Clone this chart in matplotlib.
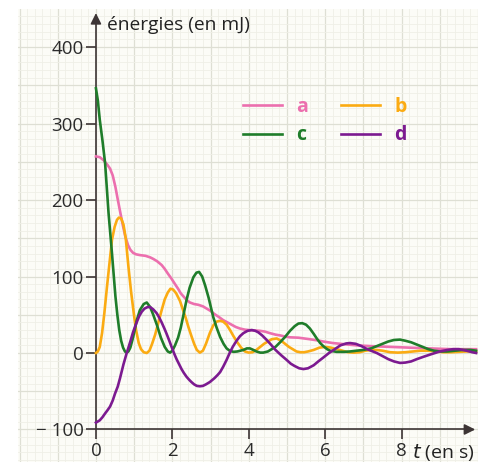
import matplotlib.pyplot as plt
import numpy as np
from matplotlib.lines import Line2D

# a : courbe rose
t_a = [0, 0.1, 0.2, 0.3, 0.37, 0.44, 0.51, 0.57, 0.64, 0.7, 0.77, 0.84, 0.9, 0.97,
       1.05, 1.15, 1.3, 1.42, 1.5, 1.6, 1.72, 1.8, 1.88, 1.98, 2.07, 2.15, 2.22,
       2.29, 2.38, 2.46, 2.57, 2.68, 2.8, 2.9, 3.0, 3.1, 3.22, 3.33, 3.44, 3.55,
       3.66, 3.77, 3.9, 4.0, 4.15, 4.29, 4.42, 4.55, 4.7, 4.82, 4.95, 5.08, 5.3,
       5.45, 5.6, 5.8, 5.95, 6.2, 6.4, 6.6, 6.82, 7.0, 7.2, 7.45, 7.7, 7.95, 8.2,
       8.45, 8.74, 9.0, 9.3, 9.6, 9.95]
e_a = [257, 256, 252, 246, 241, 232, 217, 201, 183, 168, 152, 141, 135, 131,
       129, 128, 127, 125, 123, 120, 115, 110, 104, 97, 90, 84, 78,
       74, 69, 66, 64, 63, 61, 58, 55, 51, 47, 43, 40, 37,
       34, 32, 30.5, 30, 29.5, 29, 28, 26, 24, 23, 21.5, 20.5, 20,
       19, 18, 16.5, 15, 13, 12, 11, 10, 9.5, 9, 8.5, 8, 7.5, 7,
       6.5, 6, 5.5, 5, 5, 5]

# b : courbe orange
t_b = [0, 0.05, 0.1, 0.16, 0.22, 0.29, 0.36, 0.42, 0.49, 0.55, 0.6, 0.66, 0.72,
       0.78, 0.85, 0.92, 0.99, 1.05, 1.12, 1.18, 1.25, 1.33, 1.4, 1.47, 1.55,
       1.63, 1.72, 1.8, 1.88, 1.95, 2.02, 2.1, 2.2, 2.28, 2.35, 2.42, 2.5, 2.57,
       2.64, 2.72, 2.8, 2.88, 2.98, 3.07, 3.16, 3.25, 3.33, 3.42, 3.51, 3.6, 3.7,
       3.8, 3.9, 4.0, 4.1, 4.2, 4.3, 4.4, 4.5, 4.6, 4.73, 4.85, 4.95, 5.05, 5.15,
       5.25, 5.35, 5.45, 5.55, 5.7, 5.85, 6.0, 6.15, 6.3, 6.45, 6.6, 6.75, 6.9,
       7.05, 7.2, 7.35, 7.5, 7.7, 7.9, 8.1, 8.3, 8.5, 8.7, 8.9, 9.1, 9.3, 9.5,
       9.7, 9.95]
e_b = [0, 2, 8, 26, 52, 87, 120, 148, 165, 174, 177, 176, 168,
       150, 113, 80, 52, 30, 13, 5, 1, 0, 3, 12, 24,
       39, 56, 70, 79, 84, 83, 78, 68, 56, 46, 34, 22, 12,
       4, 0.5, 3, 12, 26, 36, 41, 42, 41, 37, 30, 22, 14,
       7, 2, 0.5, 1, 4, 8, 12, 15, 18, 19, 16, 12, 8, 5,
       2, 1, 1, 2, 4, 7, 8, 7, 5, 3, 1, 0.5, 1,
       3, 4, 4, 3, 1, 0.5, 1, 2, 3, 3, 2, 1, 1, 1.5,
       2, 2]

# c : courbe verte
t_c = [0, 0.05, 0.1, 0.17, 0.24, 0.33, 0.42, 0.51, 0.56, 0.61, 0.66, 0.71, 0.76,
       0.8, 0.85, 0.9, 0.97, 1.07, 1.15, 1.25, 1.33, 1.42, 1.5, 1.6, 1.7, 1.8,
       1.88, 1.94, 2.0, 2.07, 2.15, 2.22, 2.3, 2.37, 2.45, 2.55, 2.63, 2.7, 2.78,
       2.86, 2.95, 3.07, 3.16, 3.25, 3.34, 3.42, 3.5, 3.6, 3.7, 3.86, 3.95, 4.03,
       4.12, 4.2, 4.3, 4.38, 4.5, 4.6, 4.7, 4.82, 4.95, 5.08, 5.2, 5.3, 5.4, 5.5,
       5.6, 5.7, 5.78, 5.87, 5.95, 6.05, 6.13, 6.3, 6.5, 6.65, 6.82, 7.0, 7.2,
       7.35, 7.5, 7.65, 7.8, 7.96, 8.1, 8.25, 8.4, 8.55, 8.7, 8.85, 9.0, 9.2,
       9.4, 9.6, 9.8, 9.95]
e_c = [346, 330, 305, 278, 248, 183, 130, 74, 50, 30, 16, 7, 2,
       0.5, 2, 7, 20, 43, 56, 64, 66, 60, 50, 36, 20, 8,
       2, 0.5, 3, 10, 20, 33, 52, 69, 85, 99, 105, 106, 100,
       88, 72, 47, 33, 21, 12, 6, 3, 1.5, 2, 4, 6, 6,
       4, 2, 0.5, 0.5, 2, 5, 8, 14, 21, 29, 35, 38.5, 39, 37,
       32, 25, 19, 13, 9, 5, 3, 1.5, 1.5, 2, 3, 4, 6,
       9, 12, 15, 17, 17.5, 16, 14, 11, 8, 5, 3, 2, 2,
       3, 4, 4, 3]

# d : courbe violette
t_d = [0, 0.1, 0.17, 0.24, 0.3, 0.37, 0.44, 0.5, 0.57, 0.63, 0.68, 0.72, 0.76, 0.8,
       0.9, 0.97, 1.05, 1.13, 1.2, 1.27, 1.35, 1.42, 1.5, 1.59, 1.66, 1.72, 1.8,
       1.85, 1.92, 1.98, 2.05, 2.11, 2.18, 2.24, 2.3, 2.37, 2.44, 2.5, 2.57, 2.64,
       2.72, 2.8, 2.88, 2.98, 3.1, 3.18, 3.25, 3.33, 3.42, 3.5, 3.58, 3.68, 3.77,
       3.86, 3.97, 4.08, 4.17, 4.25, 4.35, 4.47, 4.58, 4.7, 4.85, 4.99, 5.1, 5.2,
       5.32, 5.43, 5.55, 5.7, 5.82, 5.95, 6.1, 6.25, 6.4, 6.55, 6.65, 6.8, 6.95,
       7.1, 7.25, 7.35, 7.5, 7.65, 7.8, 7.96, 8.1, 8.25, 8.4, 8.57, 8.75, 9.0,
       9.2, 9.35, 9.5, 9.7, 9.85, 9.95]
e_d = [-91, -88, -84, -79, -75, -70, -62, -53, -44, -33, -23, -15, -8, -1,
       15, 27, 38, 48, 54, 58, 60, 60, 57, 52, 46, 40, 31,
       25, 16, 8, -1, -8, -15, -21, -26, -31, -35, -38, -41, -43,
       -43.5, -43, -41, -38, -33, -29, -25, -18, -9, 0, 8, 16, 22,
       26, 29, 30, 29, 27, 23, 17, 11, 4, -3, -9, -14, -17,
       -20, -21, -20, -16, -11, -6, 0, 5, 10, 12.5, 13, 12, 9,
       5, 2, 0, -4, -8, -11, -13, -12.5, -11, -8, -5, -2, 2,
       4, 5, 5, 3, 1, 0]

y_ticks = [-100, 0, 100, 200, 300, 400]
y_labels = ['\u2212 100', '0', '100', '200', '300', '400']
x_ticks = [0, 2, 4, 6, 8]

col_a = '#ec6fae'
col_b = '#fbab12'
col_c = '#1f7d2a'
col_d = '#7c1a90'
col_axe = '#3d3535'

plt.rcParams['font.family'] = ['Open Sans', 'DejaVu Sans']

fig = plt.figure(figsize=(4.89, 4.62), dpi=100)
ax = fig.add_axes([18 / 489, 0, 460 / 489, 453 / 462])
ax.set_xlim(-2.04, 10.0)
ax.set_ylim(-142.5, 449.7)
ax.set_facecolor('#fcfcf7')

# papier millimétré
for x in np.arange(-2, 10.01, 0.2):
    major = abs(x - round(x)) < 1e-6
    ax.axvline(x, color='#dedfd4' if major else '#efefe7', lw=0.9 if major else 0.6, zorder=0)
for y in np.arange(-140, 450, 10):
    major = y % 50 == 0
    ax.axhline(y, color='#dedfd4' if major else '#efefe7', lw=0.9 if major else 0.6, zorder=0)

ax.plot(t_a, e_a, color=col_a, lw=1.9, zorder=3)
ax.plot(t_b, e_b, color=col_b, lw=1.9, zorder=3)
ax.plot(t_c, e_c, color=col_c, lw=1.9, zorder=3)
ax.plot(t_d, e_d, color=col_d, lw=1.9, zorder=4)

# axes
for s in ['top', 'right']:
    ax.spines[s].set_visible(False)
ax.spines['left'].set_position(('data', 0))
ax.spines['bottom'].set_position(('data', -100))
ax.spines['left'].set_bounds(-100, 440)
ax.spines['bottom'].set_bounds(0, 9.8)
for s in ['left', 'bottom']:
    ax.spines[s].set_color(col_axe)
    ax.spines[s].set_linewidth(1.2)
ax.annotate('', xy=(0, 448), xytext=(0, 430),
            arrowprops=dict(arrowstyle='-|>', color=col_axe, lw=1.2, mutation_scale=16))
ax.annotate('', xy=(10.0, -100), xytext=(9.6, -100),
            arrowprops=dict(arrowstyle='-|>', color=col_axe, lw=1.2, mutation_scale=16))

ax.set_yticks(y_ticks)
ax.set_yticklabels(y_labels)
ax.set_xticks(x_ticks)
ax.set_xticklabels([str(v) for v in x_ticks])
ax.tick_params(colors=col_axe, labelcolor='#2b2b2b', labelsize=13.5, length=7, width=1.2, pad=2)

ax.text(0.3, 429, 'énergies (en mJ)', fontsize=13.8, color='#222222', ha='left', va='center')
ax.text(8.28, -130, '$\\mathit{t}$ (en s)', fontsize=14, color='#222222', ha='left', va='center')

handles = [Line2D([], [], color=col_a, lw=1.9), Line2D([], [], color=col_c, lw=1.9),
           Line2D([], [], color=col_b, lw=1.9), Line2D([], [], color=col_d, lw=1.9)]
ax.legend(handles, ['a', 'c', 'b', 'd'], ncol=2, frameon=False, labelcolor='linecolor',
          prop={'weight': 'bold', 'size': 14}, handlelength=2.0, columnspacing=1.7,
          handletextpad=0.75, labelspacing=0.42, loc='center', bbox_to_anchor=(0.667, 0.752))

plt.savefig('out.png', dpi=100)
